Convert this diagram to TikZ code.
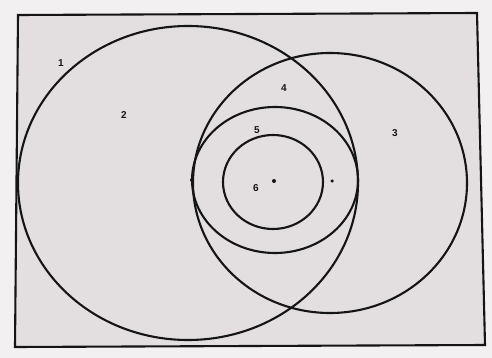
\documentclass[tikz,border=0pt]{standalone}
\usepackage{fontspec}
\setmainfont{Liberation Sans}
\definecolor{paper}{HTML}{E3DEE0}
\definecolor{edge}{HTML}{F2F0F1}
\definecolor{ink}{HTML}{151515}
\begin{document}
\begin{tikzpicture}[x=1pt,y=-1pt,
  ring/.style={draw=ink,line width=2.1pt},
  lbl/.style={font=\bfseries\fontsize{10}{12}\selectfont,text=ink,inner sep=0pt},
  pt/.style={circle,fill=ink,inner sep=0pt,minimum size=4pt}]
\fill[edge] (0,0) rectangle (492,358);
\useasboundingbox (0,0) rectangle (492,358);
\draw[ring,fill=paper] (18,15) -- (477,13) -- (485,345) -- (15,347) -- cycle;
\draw[ring] (188,183) ellipse [x radius=170, y radius=157];
\draw[ring] (330,183) ellipse [x radius=137, y radius=130];
\draw[ring] (275,180) ellipse [x radius=83, y radius=73];
\draw[ring] (273,182) ellipse [x radius=50, y radius=47];
\node[pt] (pa) at (192,180) {};
\node[pt] (pb) at (274,181) {};
\node[pt,minimum size=3.5pt] (pc) at (332,181) {};
\node[lbl] (l1) at (61,63) {1};
\node[lbl] (l2) at (124,115) {2};
\node[lbl] (l3) at (395,133) {3};
\node[lbl] (l4) at (284,88) {4};
\node[lbl] (l5) at (257,130) {5};
\node[lbl] (l6) at (256,188) {6};
\end{tikzpicture}
\end{document}
